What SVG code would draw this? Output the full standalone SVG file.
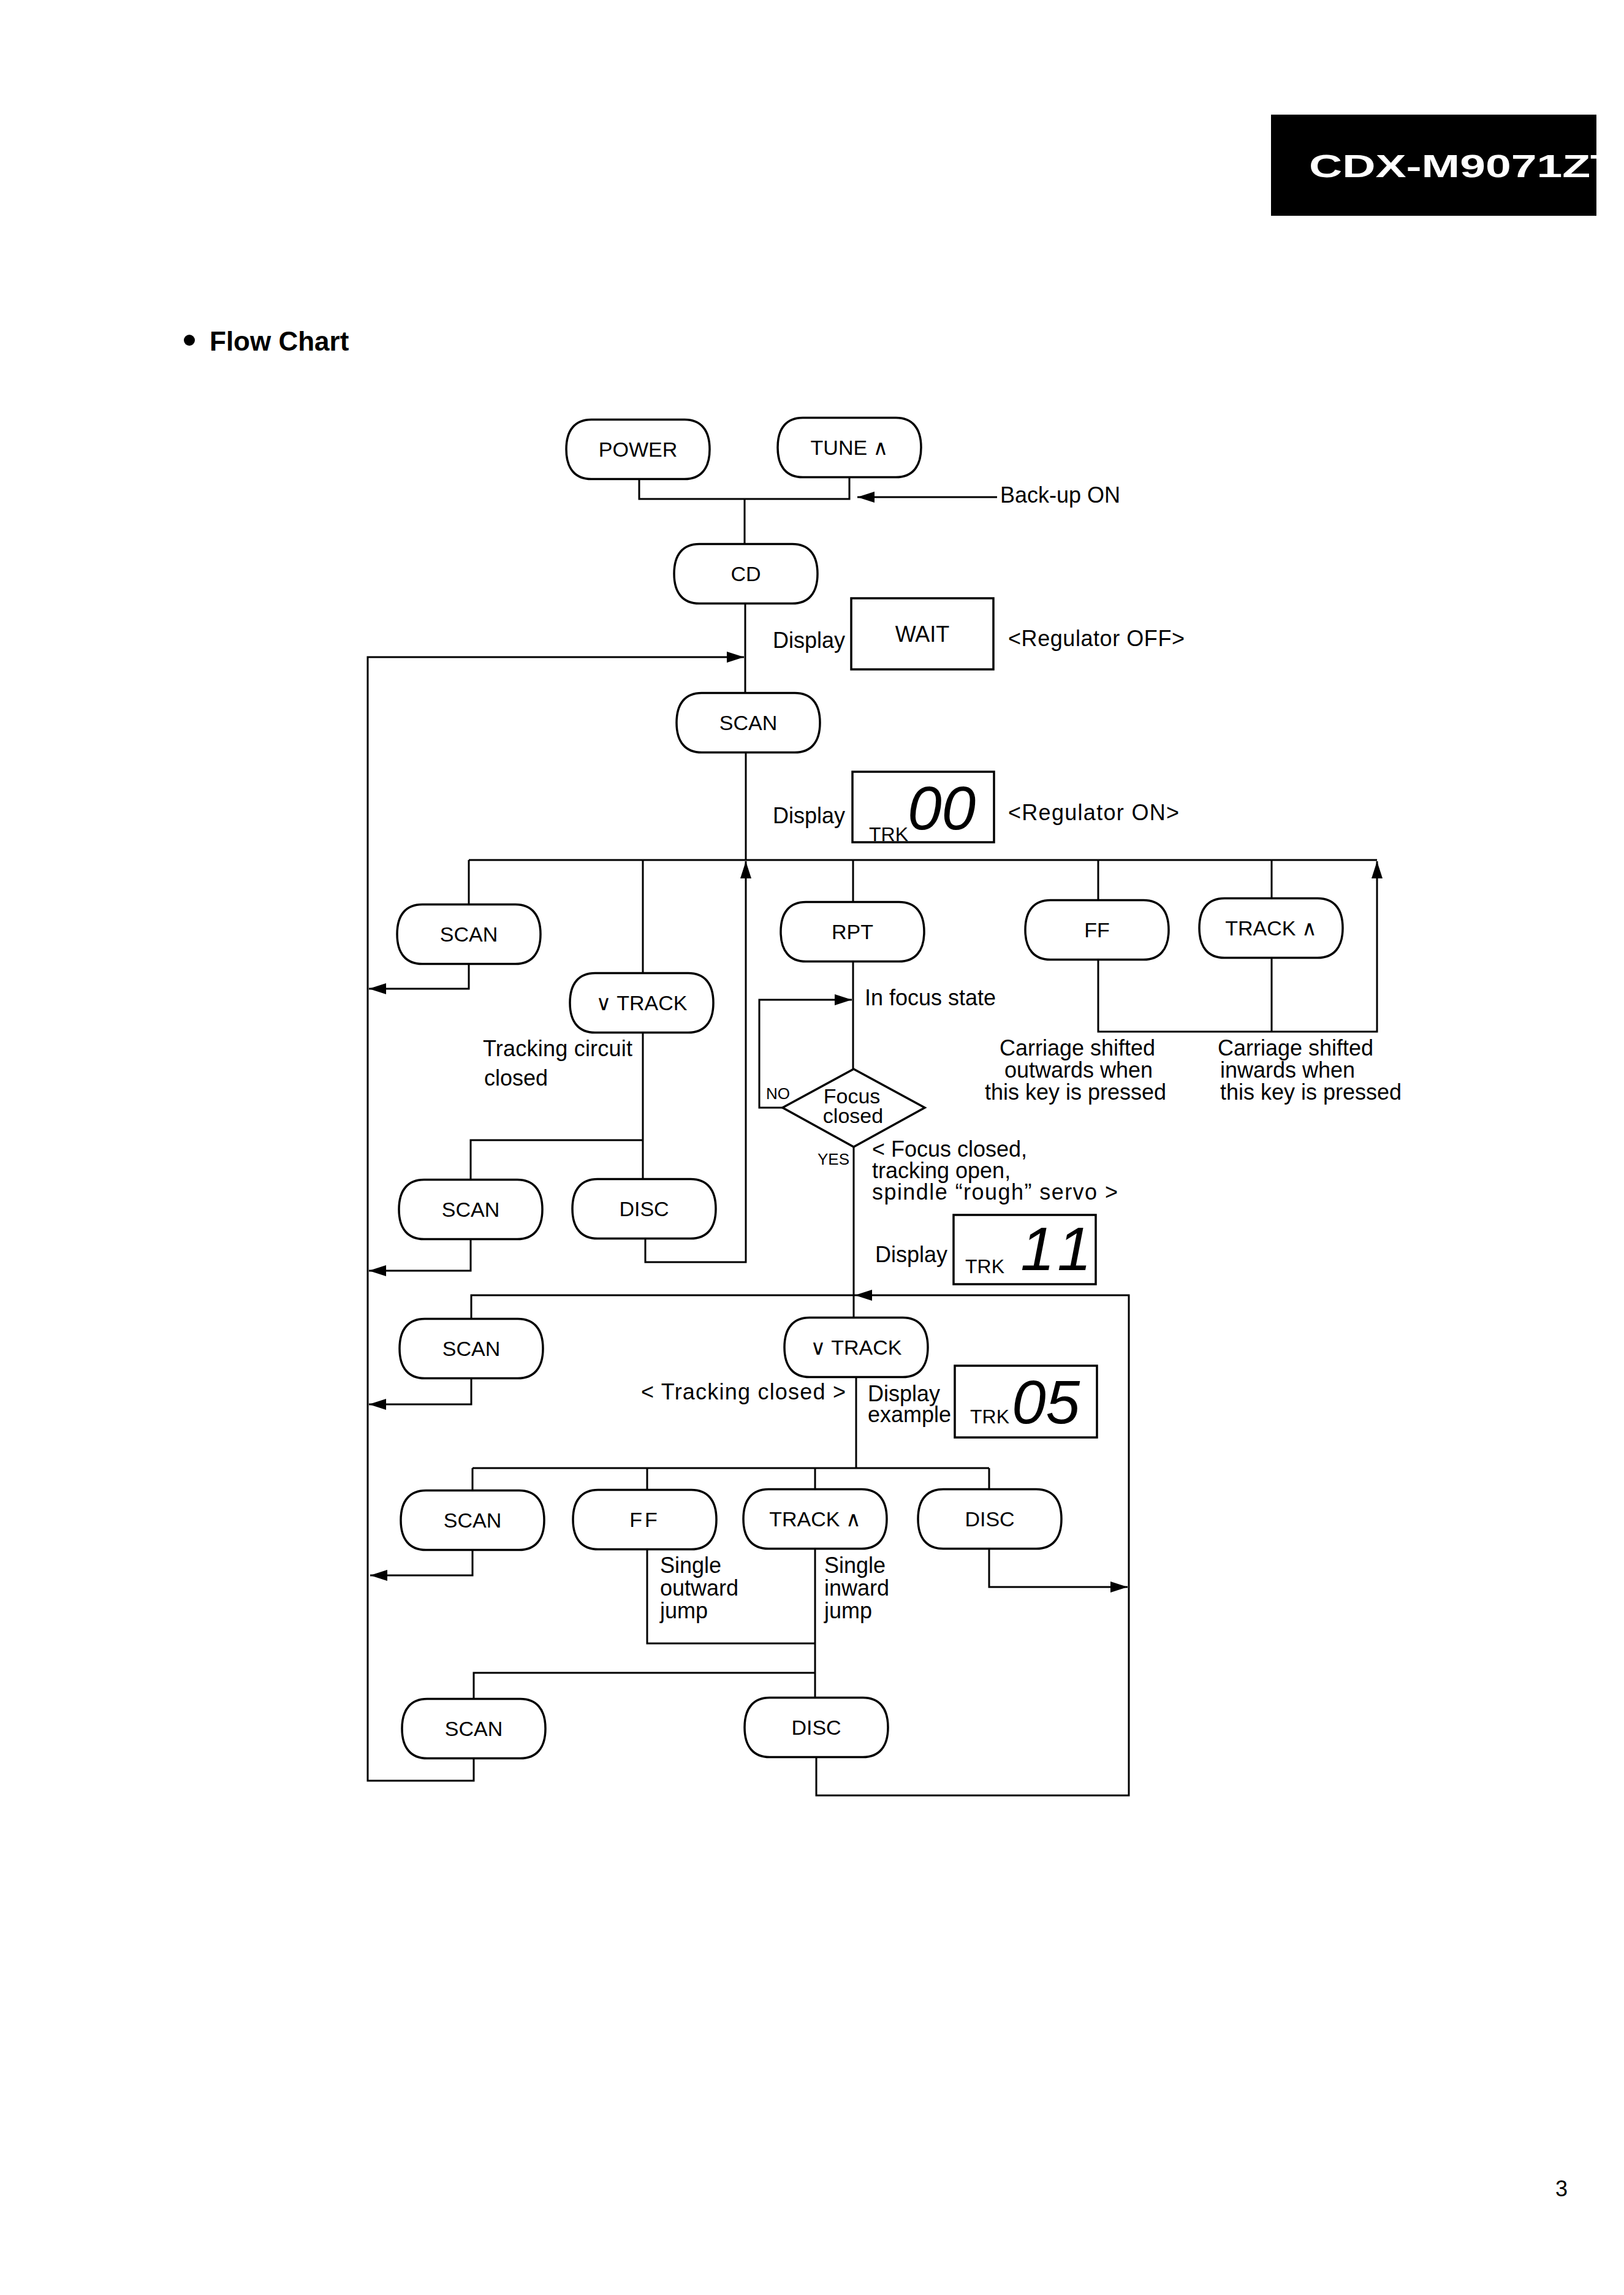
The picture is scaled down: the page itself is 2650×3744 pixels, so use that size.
<svg xmlns="http://www.w3.org/2000/svg" xmlns:xlink="http://www.w3.org/1999/xlink" width="2650" height="3744" viewBox="0 0 2650 3744">
<style>
text{font-family:"Liberation Sans",Arial,"DejaVu Sans",sans-serif;fill:#000}
.lbl{font-size:34px;text-anchor:middle}
.ann{font-size:36px}
.sm{font-size:26px}
.trk{font-size:32px}
.seg{font-size:100px;font-style:italic}
.ln{fill:none;stroke:#000;stroke-width:3;stroke-linejoin:miter}
.box{fill:none;stroke:#000;stroke-width:3.5}
.node{fill:#fff;stroke:#000;stroke-width:3.5}
</style>
<defs>
<path id="pill" d="M-76,-48.5 H76 C102,-48.5 117,-32 117,0 C117,32 102,48.5 76,48.5 H-76 C-102,48.5 -117,32 -117,0 C-117,-32 -102,-48.5 -76,-48.5 Z"/>
<marker id="ah" markerUnits="userSpaceOnUse" markerWidth="28" markerHeight="18" refX="28" refY="9" orient="auto" viewBox="0 0 28 18">
<path d="M0,0 L28,9 L0,18 Z" fill="#000"/>
</marker>
<clipPath id="hdrclip"><rect x="2074" y="187" width="531" height="165"/></clipPath>
</defs>
<rect width="2650" height="3744" fill="#fff"/>

<g id="header">
<rect x="2074" y="187" width="531" height="165" fill="#000"/>
<text x="2136" y="289" clip-path="url(#hdrclip)" font-size="52" font-weight="bold" fill="#fff" style="fill:#fff" textLength="505" lengthAdjust="spacingAndGlyphs">CDX-M9071ZT</text>
</g>

<g id="title">
<circle cx="309" cy="555" r="9" fill="#000"/>
<text x="342" y="572" font-size="44" font-weight="bold">Flow Chart</text>
</g>

<g id="connectors">
<path class="ln" d="M1043,782 V814 H1386 V778"/>
<path class="ln" d="M1215,814 V889"/>
<path class="ln" d="M1627,811 H1399" marker-end="url(#ah)"/>
<path class="ln" d="M1216,984 V1130"/>
<path class="ln" d="M773,2869 V2905 H600 V1072 H1214" marker-end="url(#ah)"/>
<path class="ln" d="M1217,1228 V1403"/>
<path class="ln" d="M765,1403 H2247"/>
<path class="ln" d="M765,1403 V1478"/>
<path class="ln" d="M765,1571 V1613 H602" marker-end="url(#ah)"/>
<path class="ln" d="M1049,1403 V1588"/>
<path class="ln" d="M1049,1684 V1924"/>
<path class="ln" d="M1049,1860 H768 V1924"/>
<path class="ln" d="M768,2021 V2073 H602" marker-end="url(#ah)"/>
<path class="ln" d="M1053,2021 V2059 H1217 V1405" marker-end="url(#ah)"/>
<path class="ln" d="M1392,1403 V1472"/>
<path class="ln" d="M1392,1568 V1744"/>
<path class="ln" d="M1277,1807 H1239 V1631 H1390" marker-end="url(#ah)"/>
<path class="ln" d="M1393,1871 V2150"/>
<path class="ln" d="M1792,1403 V1467"/>
<path class="ln" d="M2075,1403 V1464"/>
<path class="ln" d="M1792,1567 V1683 H2247 V1405" marker-end="url(#ah)"/>
<path class="ln" d="M2075,1563 V1683"/>
<path class="ln" d="M1332,2867 V2929 H1842 V2113 H1395" marker-end="url(#ah)"/>
<path class="ln" d="M1395,2113 H769 V2152"/>
<path class="ln" d="M769,2249 V2291 H602" marker-end="url(#ah)"/>
<path class="ln" d="M1397,2247 V2395"/>
<path class="ln" d="M771,2395 H1614"/>
<path class="ln" d="M771,2395 V2432"/>
<path class="ln" d="M1056,2395 V2430"/>
<path class="ln" d="M1330,2395 V2429"/>
<path class="ln" d="M1614,2395 V2430"/>
<path class="ln" d="M771,2528 V2570 H604" marker-end="url(#ah)"/>
<path class="ln" d="M1056,2528 V2681 H1330"/>
<path class="ln" d="M1330,2527 V2770"/>
<path class="ln" d="M1330,2729 H773 V2771"/>
<path class="ln" d="M1614,2527 V2589 H1840" marker-end="url(#ah)"/>
</g>

<g id="node-power" transform="translate(1041,733)"><use href="#pill" class="node"/><text class="lbl" y="12">POWER</text></g>
<g id="node-tune" transform="translate(1386,730)"><use href="#pill" class="node"/><text class="lbl" y="12">TUNE ∧</text></g>
<g id="node-cd" transform="translate(1217,936)"><use href="#pill" class="node"/><text class="lbl" y="12">CD</text></g>
<g id="node-scan1" transform="translate(1221,1179)"><use href="#pill" class="node"/><text class="lbl" y="12">SCAN</text></g>
<g id="node-scan2" transform="translate(765,1524)"><use href="#pill" class="node"/><text class="lbl" y="12">SCAN</text></g>
<g id="node-vtrack1" transform="translate(1047,1636)"><use href="#pill" class="node"/><text class="lbl" y="12">∨ TRACK</text></g>
<g id="node-scan3" transform="translate(768,1973)"><use href="#pill" class="node"/><text class="lbl" y="12">SCAN</text></g>
<g id="node-disc1" transform="translate(1051,1972)"><use href="#pill" class="node"/><text class="lbl" y="12">DISC</text></g>
<g id="node-rpt" transform="translate(1391,1520)"><use href="#pill" class="node"/><text class="lbl" y="12">RPT</text></g>
<g id="node-ff1" transform="translate(1790,1517)"><use href="#pill" class="node"/><text class="lbl" y="12">FF</text></g>
<g id="node-track1" transform="translate(2074,1514)"><use href="#pill" class="node"/><text class="lbl" y="12">TRACK ∧</text></g>
<g id="node-focus">
<polygon class="node" points="1393,1744 1509,1807 1393,1871 1277,1807"/>
<text class="lbl" x="1390" y="1800">Focus</text>
<text class="lbl" x="1392" y="1832">closed</text>
</g>
<g id="node-scan4" transform="translate(769,2200)"><use href="#pill" class="node"/><text class="lbl" y="12">SCAN</text></g>
<g id="node-vtrack2" transform="translate(1397,2198)"><use href="#pill" class="node"/><text class="lbl" y="12">∨ TRACK</text></g>
<g id="node-scan5" transform="translate(771,2480)"><use href="#pill" class="node"/><text class="lbl" y="12">SCAN</text></g>
<g id="node-ff2" transform="translate(1052,2479)"><use href="#pill" class="node"/><text class="lbl" y="12" letter-spacing="4">FF</text></g>
<g id="node-track2" transform="translate(1330,2478)"><use href="#pill" class="node"/><text class="lbl" y="12">TRACK ∧</text></g>
<g id="node-disc2" transform="translate(1615,2478)"><use href="#pill" class="node"/><text class="lbl" y="12">DISC</text></g>
<g id="node-scan6" transform="translate(773,2820)"><use href="#pill" class="node"/><text class="lbl" y="12">SCAN</text></g>
<g id="node-disc3" transform="translate(1332,2818)"><use href="#pill" class="node"/><text class="lbl" y="12">DISC</text></g>

<g id="display-wait">
<text class="ann" x="1261" y="1057">Display</text>
<rect class="box" x="1389" y="976" width="232" height="116"/>
<text class="ann" x="1505" y="1047" text-anchor="middle">WAIT</text>
<text class="ann" x="1645" y="1054" textLength="288">&lt;Regulator OFF&gt;</text>
</g>

<g id="display-00">
<text class="ann" x="1261" y="1343">Display</text>
<rect class="box" x="1391" y="1259" width="231" height="115"/>
<text class="trk" x="1418" y="1372">TRK</text>
<text class="seg" x="1481" y="1353">00</text>
<text class="ann" x="1645" y="1338" textLength="279">&lt;Regulator ON&gt;</text>
</g>

<g id="annotations">
<text class="ann" x="1632" y="820">Back-up ON</text>
<text class="ann" x="788" y="1723" textLength="244">Tracking circuit</text>
<text class="ann" x="790" y="1771">closed</text>
<text class="ann" x="1411" y="1640">In focus state</text>
<text class="sm" x="1250" y="1793">NO</text>
<text class="sm" x="1334" y="1900">YES</text>
<text class="ann" x="1423" y="1887">&lt; Focus closed,</text>
<text class="ann" x="1423" y="1922">tracking open,</text>
<text class="ann" x="1423" y="1957" textLength="401">spindle “rough” servo &gt;</text>
<text class="ann" x="1758" y="1722" text-anchor="middle">Carriage shifted</text>
<text class="ann" x="1760" y="1758" text-anchor="middle">outwards when</text>
<text class="ann" x="1755" y="1794" text-anchor="middle">this key is pressed</text>
<text class="ann" x="1987" y="1722">Carriage shifted</text>
<text class="ann" x="1991" y="1758">inwards when</text>
<text class="ann" x="1991" y="1794">this key is pressed</text>
<text class="ann" x="1046" y="2283" textLength="334">&lt; Tracking closed &gt;</text>
<text class="ann" x="1077" y="2566">Single</text>
<text class="ann" x="1077" y="2603">outward</text>
<text class="ann" x="1077" y="2640">jump</text>
<text class="ann" x="1345" y="2566">Single</text>
<text class="ann" x="1345" y="2603">inward</text>
<text class="ann" x="1345" y="2640">jump</text>
</g>

<g id="display-11">
<text class="ann" x="1428" y="2059">Display</text>
<rect class="box" x="1556" y="1982" width="232" height="113"/>
<text class="trk" x="1575" y="2077">TRK</text>
<text class="seg" x="1693 1753" y="2072" text-anchor="middle" font-size="90">11</text>
</g>

<g id="display-05">
<text class="ann" x="1416" y="2286">Display</text>
<text class="ann" x="1416" y="2320">example</text>
<rect class="box" x="1558" y="2228" width="232" height="117"/>
<text class="trk" x="1583" y="2322">TRK</text>
<text class="seg" x="1651" y="2322" font-size="98">05</text>
</g>

<text x="2538" y="3583" font-size="36">3</text>
</svg>
